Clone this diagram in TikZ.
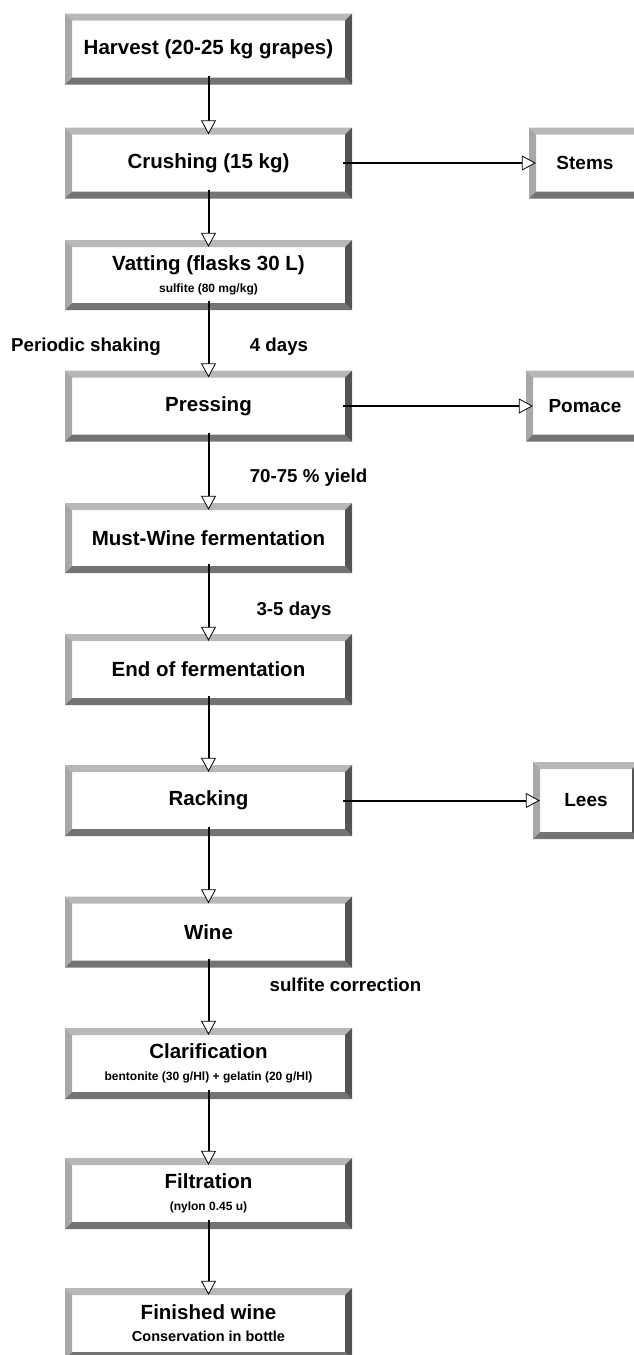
\documentclass[tikz,border=0pt]{standalone}
\usepackage{fontspec}
\setmainfont{Liberation Sans}
\usetikzlibrary{arrows.meta,positioning}

\definecolor{frametop}{gray}{0.72}
\definecolor{frameleft}{gray}{0.66}
\definecolor{framebottom}{gray}{0.45}
\definecolor{frameright}{gray}{0.33}

%bevelled frame drawn inside every box
\newcommand{\boxbevel}{%
    \path (path picture bounding box.north west) coordinate (bnw)
          (path picture bounding box.north east) coordinate (bne)
          (path picture bounding box.south west) coordinate (bsw)
          (path picture bounding box.south east) coordinate (bse);
    \fill[frametop] (bnw) -- (bne) -- ([shift={(-7pt,-7pt)}]bne)
        -- ([shift={(7pt,-7pt)}]bnw) -- cycle;
    \fill[frameleft] (bnw) -- ([shift={(7pt,-7pt)}]bnw)
        -- ([shift={(7pt,7pt)}]bsw) -- (bsw) -- cycle;
    \fill[framebottom] (bsw) -- ([shift={(7pt,7pt)}]bsw)
        -- ([shift={(-7pt,7pt)}]bse) -- (bse) -- cycle;
    \fill[frameright] (bse) -- ([shift={(-7pt,7pt)}]bse)
        -- ([shift={(-7pt,-7pt)}]bne) -- (bne) -- cycle;
}
\newcommand{\subtext}[1]{{\fontsize{12}{14}\selectfont #1}}

\begin{document}
\begin{tikzpicture}[
    x=1pt, y=-1pt,
    inner sep=0pt, %text sits in the middle of the box
    stepbox/.style={fill=white, minimum width=287pt, minimum height=71pt,
        align=center, font=\bfseries\fontsize{20.5}{25}\selectfont,
        path picture={\boxbevel}},
    sidebox/.style={stepbox, minimum width=112pt,
        font=\bfseries\fontsize{19}{22}\selectfont},
    steplabel/.style={font=\bfseries\fontsize{18.7}{22}\selectfont},
    flow/.style={line width=2pt,
        -{Triangle[width=15pt,length=14pt,fill=white,line width=0.8pt]},
        shorten <=-9pt, shorten >=-7pt},
    ]

    \useasboundingbox (0,0) rectangle (634,1355);

    %Main steps
    \node[stepbox] (harvest) at (208.5,49) {Harvest (20-25 kg grapes)};
    \node[stepbox] (crushing) at (208.5,163) {Crushing (15 kg)};
    \node[stepbox, minimum height=70pt] (vatting) at (208.5,275)
        {Vatting (flasks 30 L)\\[-3pt]\subtext{sulfite (80 mg/kg)}};
    \node[stepbox] (pressing) at (208.5,406) {Pressing};
    \node[stepbox, minimum height=70pt] (mustwine) at (208.5,538)
        {Must-Wine fermentation};
    \node[stepbox] (endferm) at (208.5,669.5) {End of fermentation};
    \node[stepbox] (racking) at (208.5,800.5) {Racking};
    \node[stepbox] (wine) at (208.5,932) {Wine};
    \node[stepbox] (clarif) at (208.5,1063.5)
        {Clarification\\[-3pt]\subtext{bentonite (30 g/Hl) + gelatin (20 g/Hl)}};
    \node[stepbox] (filtr) at (208.5,1193.5)
        {Filtration\\[-3pt]\subtext{(nylon 0.45 u)}};
    \node[stepbox] (finished) at (208.5,1323.5)
        {Finished wine\\[-3pt]{\fontsize{14.5}{16}\selectfont Conservation in bottle}};

    %By-products
    \node[sidebox] (stems) at (585,163) {Stems};
    \node[sidebox, minimum width=118pt] (pomace) at (585,406) {Pomace};
    \node[sidebox, minimum width=106pt, minimum height=77pt] (lees)
        at (586,800.5) {Lees};

    %Conditions
    \node[steplabel] (shaking) at (86,347) {Periodic shaking};
    \node[steplabel] (fourdays) at (279,347) {4 days};
    \node[steplabel] (yield) at (308.5,478) {70-75 \% yield};
    \node[steplabel] (threedays) at (294,611) {3-5 days};
    \node[steplabel] (sulfcorr) at (345.5,985) {sulfite correction};

    %Flow
    \draw[flow] (harvest) -- (crushing);
    \draw[flow] (crushing) -- (vatting);
    \draw[flow] (vatting) -- (pressing);
    \draw[flow] (pressing) -- (mustwine);
    \draw[flow] (mustwine) -- (endferm);
    \draw[flow] (endferm) -- (racking);
    \draw[flow] (racking) -- (wine);
    \draw[flow] (wine) -- (clarif);
    \draw[flow] (clarif) -- (filtr);
    \draw[flow] (filtr) -- (finished);

    \draw[flow] (crushing) -- (stems);
    \draw[flow] (pressing) -- (pomace);
    \draw[flow] (racking) -- (lees);

\end{tikzpicture}
\end{document}
